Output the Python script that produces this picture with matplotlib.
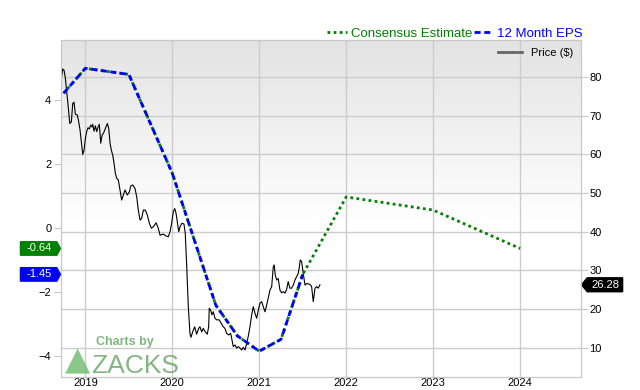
import numpy as np
import matplotlib
matplotlib.use("Agg")
from matplotlib import pyplot as plt
from matplotlib import transforms
from matplotlib.patches import Polygon

plt.rcParams['font.family'] = ['Liberation Sans', 'DejaVu Sans']

# 12 month EPS (history) and consensus estimate (history + forecast)
eps_dates = [2018.75, 2019.0, 2019.5, 2020.0, 2020.5, 2020.75, 2021.0, 2021.25, 2021.5]
eps_values = [4.21, 4.99, 4.80, 1.71, -2.41, -3.375, -3.85, -3.48, -1.45]
est_dates = eps_dates + [2022.0, 2023.0, 2024.0]
est_values = eps_values + [0.97, 0.56, -0.64]

# share price
price_dates = [
    2018.724, 2018.740, 2018.755, 2018.770, 2018.786, 2018.801, 2018.821, 2018.839,
    2018.855, 2018.870, 2018.885, 2018.908, 2018.924, 2018.939, 2018.954, 2018.970,
    2018.985, 2019.000, 2019.016, 2019.031, 2019.046, 2019.062, 2019.077, 2019.085,
    2019.100, 2019.115, 2019.131, 2019.146, 2019.161, 2019.177, 2019.192, 2019.207,
    2019.223, 2019.238, 2019.253, 2019.269, 2019.284, 2019.299, 2019.315, 2019.330,
    2019.345, 2019.361, 2019.379, 2019.399, 2019.418, 2019.437, 2019.456, 2019.483,
    2019.506, 2019.522, 2019.545, 2019.571, 2019.591, 2019.609, 2019.629, 2019.648,
    2019.667, 2019.690, 2019.713, 2019.736, 2019.759, 2019.782, 2019.813, 2019.839,
    2019.859, 2019.897, 2019.928, 2019.954, 2019.974, 2019.993, 2020.011, 2020.028,
    2020.043, 2020.057, 2020.074, 2020.089, 2020.111, 2020.134, 2020.149, 2020.166,
    2020.184, 2020.203, 2020.215, 2020.234, 2020.257, 2020.280, 2020.303, 2020.318,
    2020.338, 2020.356, 2020.379, 2020.402, 2020.418, 2020.425, 2020.441, 2020.456,
    2020.471, 2020.491, 2020.510, 2020.540, 2020.563, 2020.586, 2020.606, 2020.625,
    2020.648, 2020.671, 2020.683, 2020.701, 2020.721, 2020.740, 2020.759, 2020.778,
    2020.798, 2020.816, 2020.836, 2020.855, 2020.874, 2020.893, 2020.913, 2020.931,
    2020.951, 2020.970, 2020.989, 2021.008, 2021.028, 2021.046, 2021.066, 2021.085,
    2021.103, 2021.123, 2021.143, 2021.161, 2021.172, 2021.184, 2021.200, 2021.218,
    2021.238, 2021.257, 2021.276, 2021.295, 2021.315, 2021.333, 2021.352, 2021.372,
    2021.391, 2021.410, 2021.430, 2021.448, 2021.460, 2021.471, 2021.487, 2021.506,
    2021.526, 2021.545, 2021.583, 2021.602, 2021.621, 2021.641, 2021.660, 2021.678,
    2021.698]
price_values = [
    79.8, 82.1, 81.8, 79.7, 76.2, 72.8, 68.0, 68.4,
    73.2, 73.5, 70.4, 70.2, 68.4, 66.3, 63.3, 60.0,
    61.1, 64.1, 66.0, 66.9, 66.6, 67.6, 67.1, 67.8,
    66.0, 67.4, 65.9, 67.1, 67.8, 62.9, 65.0, 65.4,
    66.3, 67.1, 68.0, 66.7, 62.9, 61.1, 59.8, 57.7,
    55.1, 53.8, 53.4, 50.8, 48.2, 49.5, 50.8, 49.5,
    50.3, 51.8, 52.1, 51.2, 49.0, 45.6, 43.0, 43.5,
    45.6, 45.6, 44.3, 42.2, 40.9, 41.3, 42.3, 40.9,
    39.1, 39.4, 38.9, 38.7, 40.0, 42.2, 45.2, 46.0,
    44.8, 42.6, 40.0, 41.3, 42.2, 42.0, 39.6, 30.9,
    20.6, 13.7, 12.7, 14.1, 15.4, 13.5, 15.0, 15.4,
    14.1, 15.0, 14.1, 13.5, 15.4, 20.2, 19.7, 18.5,
    19.3, 17.6, 17.2, 17.2, 16.3, 15.4, 15.0, 13.7,
    13.3, 13.7, 12.4, 10.3, 10.7, 9.9, 10.3, 9.9,
    9.4, 10.1, 9.4, 11.1, 13.0, 15.4, 18.5, 20.6,
    18.9, 17.6, 19.7, 21.5, 21.9, 20.6, 19.3, 21.0,
    22.8, 24.9, 25.8, 30.9, 31.4, 28.8, 27.5, 27.9,
    24.9, 24.2, 24.5, 24.1, 25.1, 27.1, 25.4, 25.4,
    26.2, 27.5, 28.4, 29.2, 30.7, 32.7, 32.3, 29.2,
    26.2, 26.6, 26.4, 25.8, 21.9, 25.4, 25.8, 25.4,
    26.28]

year_ticks = [2019, 2020, 2021, 2022, 2023, 2024]
eps_ticks = [4, 2, 0, -2, -4]
price_ticks = [10, 20, 30, 40, 50, 60, 70, 80]

fig = plt.figure(figsize=(6.4, 3.9), dpi=100)
ax = fig.add_axes([61/640, 13/390, 520/640, 337/390])
axl = ax.twinx()

# background gradient
grad = np.linspace(0, 1, 256).reshape(-1, 1)
shade = np.clip(grad / 0.55, 0, 1)
img = np.dstack([0.89 + 0.11 * shade] * 3)
ax.imshow(img, extent=[0, 1, 0, 1], transform=ax.transAxes, aspect='auto',
          origin='upper', zorder=0)

ax.plot(price_dates, price_values, color='black', lw=0.8, label='Price ($)', zorder=3)
axl.plot(est_dates, est_values, color='#008000', lw=2, ls=(0, (1, 1.2)),
         label='Consensus Estimate')
axl.plot(eps_dates, eps_values, color='#0000ff', lw=2, ls=(0, (2.2, 1.3)),
         label='12 Month EPS')

ax.set_xlim(2018.72, 2024.70)
ax.set_ylim(2.42, 89.6)
axl.set_ylim(-4.656, 5.875)

ax.set_xticks(year_ticks)
ax.set_xticklabels([str(y) for y in year_ticks])
ax.set_yticks(price_ticks)
axl.set_yticks(eps_ticks)
ax.yaxis.tick_right()
axl.yaxis.tick_left()

ax.grid(True, color='#cccccc', lw=1, zorder=1)
ax.set_axisbelow(True)
for a in (ax, axl):
    for s in a.spines.values():
        s.set_color('#c8c8c8')
ax.tick_params(axis='x', length=0, pad=1, labelsize=8)
ax.tick_params(axis='y', length=5, color='#c8c8c8', pad=1, labelsize=8)
axl.tick_params(axis='y', length=5, color='#c8c8c8', pad=2, labelsize=8)

# legends
leg = ax.legend(loc='upper right', frameon=False, fontsize=8, handlelength=2.2,
                borderaxespad=0.3)
leg.get_lines()[0].set_color('#666666')
leg.get_lines()[0].set_linewidth(2)
top = axl.legend(loc='lower right', bbox_to_anchor=(1.014, 0.985), ncol=2, frameon=False,
                 fontsize=9.5, handlelength=1.5, handletextpad=0.3, columnspacing=0.1,
                 borderaxespad=0.0, labelcolor='linecolor')

# value flags on the left (EPS axis)
tl = transforms.blended_transform_factory(ax.transAxes, axl.transData)
for val, col in [(est_values[-1], '#008000'), (eps_values[-1], '#0000ff')]:
    h = 0.21
    poly = Polygon([(-0.078, val - h), (-0.008, val - h), (-0.001, val),
                    (-0.008, val + h), (-0.078, val + h)], closed=True,
                   facecolor=col, edgecolor=col, transform=tl, clip_on=False)
    axl.add_patch(poly)
    axl.text(-0.043, val, f"{val:.2f}", color='white', fontsize=8, ha='center',
             va='center', transform=tl, clip_on=False)

# price flag on the right
tr = transforms.blended_transform_factory(ax.transAxes, ax.transData)
last = price_values[-1]
h = 1.8
ax.add_patch(Polygon([(1.001, last), (1.012, last + h), (1.08, last + h),
                      (1.08, last - h), (1.012, last - h)], closed=True,
                     facecolor='black', edgecolor='black', transform=tr, clip_on=False,
                     zorder=5))
ax.text(1.047, last, f"{last:.2f}", color='white', fontsize=8, ha='center', va='center',
        transform=tr, clip_on=False, zorder=6)

# watermark
axl.add_patch(Polygon([(0.008, 0.01), (0.056, 0.01), (0.032, 0.085)], closed=True,
                      facecolor='#6dbb6d', alpha=0.8, transform=ax.transAxes))
axl.text(0.068, 0.095, 'Charts by', color='#6aaa6a', alpha=0.85, fontsize=9,
         fontweight='bold', transform=ax.transAxes)
axl.text(0.058, 0.012, 'ZACKS', color='#5a9e5a', alpha=0.75, fontsize=19,
         transform=ax.transAxes)

fig.savefig('out.png', dpi=100)
